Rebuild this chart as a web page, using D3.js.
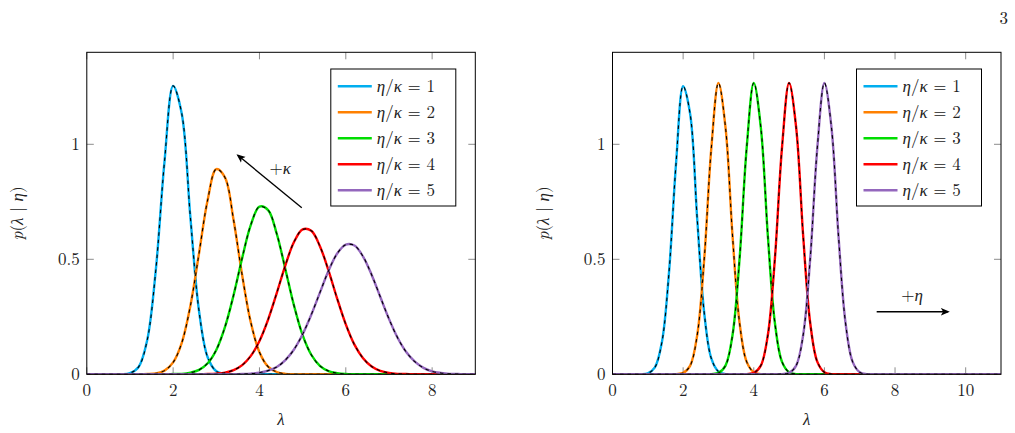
<!DOCTYPE html>
<html>
<head>
<meta charset="utf-8">
<script src="https://cdn.jsdelivr.net/npm/d3@7"></script>
<style>
  body { margin: 0; background: #fff; }
  svg { display: block; }
</style>
</head>
<body>
<svg id="chart" width="1015" height="433"></svg>
<script>
/* lambda grid shared by every curve (0 .. 11, step 0.2) */
var lam = [0, 0.2, 0.4, 0.6, 0.8, 1, 1.2, 1.4, 1.6, 1.8,
  2, 2.2, 2.4, 2.6, 2.8, 3, 3.2, 3.4, 3.6, 3.8,
  4, 4.2, 4.4, 4.6, 4.8, 5, 5.2, 5.4, 5.6, 5.8,
  6, 6.2, 6.4, 6.6, 6.8, 7, 7.2, 7.4, 7.6, 7.8,
  8, 8.2, 8.4, 8.6, 8.8, 9, 9.2, 9.4, 9.6, 9.8,
  10, 10.2, 10.4, 10.6, 10.8, 11];

/* left panel: varying kappa */
var pKappa1 = [0, 0, 0, 0, 0, 0.005, 0.032, 0.149, 0.456, 0.925,
  1.254, 1.133, 0.682, 0.275, 0.074, 0.013, 0.002, 0, 0, 0,
  0, 0, 0, 0, 0, 0, 0, 0, 0, 0,
  0, 0, 0, 0, 0, 0, 0, 0, 0, 0,
  0, 0, 0, 0, 0, 0, 0, 0, 0, 0,
  0, 0, 0, 0, 0, 0];
var pKappa2 = [0, 0, 0, 0, 0, 0, 0, 0.001, 0.004, 0.016,
  0.052, 0.137, 0.298, 0.526, 0.758, 0.892, 0.856, 0.671, 0.430, 0.225,
  0.096, 0.033, 0.010, 0.002, 0, 0, 0, 0, 0, 0,
  0, 0, 0, 0, 0, 0, 0, 0, 0, 0,
  0, 0, 0, 0, 0, 0, 0, 0, 0, 0,
  0, 0, 0, 0, 0, 0];
var pKappa3 = [0, 0, 0, 0, 0, 0, 0, 0, 0, 0,
  0.001, 0.002, 0.007, 0.019, 0.048, 0.106, 0.205, 0.344, 0.506, 0.650,
  0.729, 0.714, 0.611, 0.457, 0.299, 0.170, 0.085, 0.037, 0.014, 0.005,
  0.001, 0, 0, 0, 0, 0, 0, 0, 0, 0,
  0, 0, 0, 0, 0, 0, 0, 0, 0, 0,
  0, 0, 0, 0, 0, 0];
var pKappa4 = [0, 0, 0, 0, 0, 0, 0, 0, 0, 0,
  0, 0, 0, 0, 0.001, 0.003, 0.007, 0.018, 0.040, 0.080,
  0.145, 0.238, 0.353, 0.474, 0.575, 0.630, 0.624, 0.557, 0.451, 0.329,
  0.217, 0.129, 0.070, 0.034, 0.015, 0.006, 0.002, 0.001, 0, 0,
  0, 0, 0, 0, 0, 0, 0, 0, 0, 0,
  0, 0, 0, 0, 0, 0];
var pKappa5 = [0, 0, 0, 0, 0, 0, 0, 0, 0, 0,
  0, 0, 0, 0, 0, 0, 0, 0, 0.001, 0.003,
  0.007, 0.016, 0.032, 0.062, 0.108, 0.174, 0.259, 0.355, 0.450, 0.525,
  0.564, 0.560, 0.512, 0.432, 0.336, 0.241, 0.159, 0.097, 0.055, 0.028,
  0.013, 0.006, 0.002, 0.001, 0, 0, 0, 0, 0, 0,
  0, 0, 0, 0, 0, 0];

/* right panel: varying eta */
var pEta1 = [0, 0, 0, 0, 0, 0.004, 0.030, 0.141, 0.443, 0.918,
  1.253, 1.130, 0.672, 0.263, 0.068, 0.012, 0.001, 0, 0, 0,
  0, 0, 0, 0, 0, 0, 0, 0, 0, 0,
  0, 0, 0, 0, 0, 0, 0, 0, 0, 0,
  0, 0, 0, 0, 0, 0, 0, 0, 0, 0,
  0, 0, 0, 0, 0, 0];
var pEta2 = [0, 0, 0, 0, 0, 0, 0, 0, 0, 0.001,
  0.006, 0.038, 0.172, 0.507, 0.987, 1.267, 1.073, 0.599, 0.221, 0.054,
  0.009, 0.001, 0, 0, 0, 0, 0, 0, 0, 0,
  0, 0, 0, 0, 0, 0, 0, 0, 0, 0,
  0, 0, 0, 0, 0, 0, 0, 0, 0, 0,
  0, 0, 0, 0, 0, 0];
var pEta3 = [0, 0, 0, 0, 0, 0, 0, 0, 0, 0,
  0, 0, 0, 0, 0.001, 0.006, 0.038, 0.172, 0.507, 0.987,
  1.267, 1.073, 0.599, 0.221, 0.054, 0.009, 0.001, 0, 0, 0,
  0, 0, 0, 0, 0, 0, 0, 0, 0, 0,
  0, 0, 0, 0, 0, 0, 0, 0, 0, 0,
  0, 0, 0, 0, 0, 0];
var pEta4 = [0, 0, 0, 0, 0, 0, 0, 0, 0, 0,
  0, 0, 0, 0, 0, 0, 0, 0, 0, 0.001,
  0.006, 0.038, 0.172, 0.507, 0.987, 1.267, 1.073, 0.599, 0.221, 0.054,
  0.009, 0.001, 0, 0, 0, 0, 0, 0, 0, 0,
  0, 0, 0, 0, 0, 0, 0, 0, 0, 0,
  0, 0, 0, 0, 0, 0];
var pEta5 = [0, 0, 0, 0, 0, 0, 0, 0, 0, 0,
  0, 0, 0, 0, 0, 0, 0, 0, 0, 0,
  0, 0, 0, 0, 0.001, 0.006, 0.038, 0.172, 0.507, 0.987,
  1.267, 1.073, 0.599, 0.221, 0.054, 0.009, 0.001, 0, 0, 0,
  0, 0, 0, 0, 0, 0, 0, 0, 0, 0,
  0, 0, 0, 0, 0, 0];

var ratios = ["1", "2", "3", "4", "5"];
var colors = ["#00aeef", "#ff8000", "#00dd00", "#ff0000", "#9467bd"];
var xTicksLeft = [0, 2, 4, 6, 8];
var xTicksRight = [0, 2, 4, 6, 8, 10];
var yTicks = [0, 0.5, 1];
var yTickLabels = ["0", "0.5", "1"];

var FONT = "'Latin Modern Roman', 'Liberation Serif', serif";
var FS = "17px";

var svg = d3.select("#chart");

/* every text goes through here so the font is set inline */
function addText(sel) {
  return sel.append("text")
      .style("font-family", FONT)
      .style("font-size", FS)
      .attr("fill", "#222");
}

/* page number */
addText(svg)
    .attr("x", 1008)
    .attr("y", 24)
    .style("text-anchor", "end")
    .text("3");

var defs = svg.append("defs");
defs.append("marker")
    .attr("id", "arrowhead")
    .attr("viewBox", "0 0 10 10")
    .attr("refX", 8)
    .attr("refY", 5)
    .attr("markerWidth", 9)
    .attr("markerHeight", 9)
    .attr("markerUnits", "userSpaceOnUse")
    .attr("orient", "auto")
  .append("path")
    .attr("d", "M0,0.8 L10,5 L0,9.2 L2.5,5 Z")
    .attr("fill", "#000");

function drawPanel(id, left, xMax, xTicks, series, arrow) {
  var top = 52.3, bottom = 374.3, right = left + 388.5;

  var x = d3.scaleLinear().domain([0, xMax]).range([left, right]);
  var y = d3.scaleLinear().domain([0, 1.4]).range([bottom, top]);

  var g = svg.append("g").attr("id", id);

  defs.append("clipPath")
      .attr("id", "clip-" + id)
    .append("rect")
      .attr("x", left)
      .attr("y", top)
      .attr("width", right - left)
      .attr("height", bottom - top);

  /* ticks on all four sides, pointing inward */
  var tl = 7;
  var gTicks = g.append("g").attr("stroke", "#8c8c8c").attr("stroke-width", 1);
  xTicks.forEach(function(t) {
    gTicks.append("line").attr("x1", x(t)).attr("x2", x(t)).attr("y1", bottom).attr("y2", bottom - tl);
    gTicks.append("line").attr("x1", x(t)).attr("x2", x(t)).attr("y1", top).attr("y2", top + tl);
  });
  yTicks.forEach(function(t) {
    gTicks.append("line").attr("x1", left).attr("x2", left + tl).attr("y1", y(t)).attr("y2", y(t));
    gTicks.append("line").attr("x1", right).attr("x2", right - tl).attr("y1", y(t)).attr("y2", y(t));
  });

  /* curves */
  var line = d3.line()
      .x(function(d) { return x(d[0]); })
      .y(function(d) { return y(d[1]); })
      .curve(d3.curveCatmullRom.alpha(0.5));

  var gCurves = g.append("g").attr("clip-path", "url(#clip-" + id + ")");
  series.forEach(function(vals, i) {
    var pts = lam.map(function(l, j) { return [l, vals[j]]; });
    gCurves.append("path")
        .datum(pts)
        .attr("d", line)
        .attr("fill", "none")
        .attr("stroke", colors[i])
        .attr("stroke-width", 2.4);
    gCurves.append("path")
        .datum(pts)
        .attr("d", line)
        .attr("fill", "none")
        .attr("stroke", "#000")
        .attr("stroke-width", 1.1)
        .attr("stroke-dasharray", "3.5,4");
  });

  /* frame */
  g.append("rect")
      .attr("x", left)
      .attr("y", top)
      .attr("width", right - left)
      .attr("height", bottom - top)
      .attr("fill", "none")
      .attr("stroke", "#000")
      .attr("stroke-width", 1);

  /* tick labels */
  xTicks.forEach(function(t) {
    addText(g)
        .attr("x", x(t))
        .attr("y", bottom + 22)
        .style("text-anchor", "middle")
        .text(t);
  });
  yTicks.forEach(function(t, i) {
    addText(g)
        .attr("x", left - 7)
        .attr("y", y(t))
        .attr("dy", "0.33em")
        .style("text-anchor", "end")
        .text(yTickLabels[i]);
  });

  /* axis labels */
  addText(g)
      .attr("x", (left + right) / 2)
      .attr("y", 425)
      .style("text-anchor", "middle")
      .style("font-style", "italic")
      .text("λ");

  var yl = addText(g)
      .attr("transform", "translate(" + (left - 64) + "," + ((top + bottom) / 2) + ") rotate(-90)")
      .style("text-anchor", "middle");
  yl.append("tspan").style("font-style", "italic").text("p");
  yl.append("tspan").text("(");
  yl.append("tspan").style("font-style", "italic").text("λ");
  yl.append("tspan").text(" | ");
  yl.append("tspan").style("font-style", "italic").text("η");
  yl.append("tspan").text(")");

  /* annotation arrow */
  g.append("line")
      .attr("x1", x(arrow.from[0]))
      .attr("y1", y(arrow.from[1]))
      .attr("x2", x(arrow.to[0]))
      .attr("y2", y(arrow.to[1]))
      .attr("stroke", "#000")
      .attr("stroke-width", 1.3)
      .attr("marker-end", "url(#arrowhead)");
  var at = addText(g)
      .attr("x", x(arrow.label[0]))
      .attr("y", y(arrow.label[1]))
      .attr("dy", "0.33em")
      .style("text-anchor", "middle");
  at.append("tspan").text("+");
  at.append("tspan").style("font-style", "italic").text(arrow.sym);

  /* legend */
  var lw = 125, lh = 137;
  var lx = right - 19.5 - lw, ly = top + 16.7;
  var leg = g.append("g").attr("transform", "translate(" + lx + "," + ly + ")");
  leg.append("rect")
      .attr("width", lw)
      .attr("height", lh)
      .attr("fill", "#fff")
      .attr("stroke", "#000")
      .attr("stroke-width", 1);
  ratios.forEach(function(r, i) {
    var yy = 17.3 + i * 26;
    leg.append("line")
        .attr("x1", 7)
        .attr("x2", 41)
        .attr("y1", yy)
        .attr("y2", yy)
        .attr("stroke", colors[i])
        .attr("stroke-width", 2.4);
    var tx = addText(leg)
        .attr("x", 46)
        .attr("y", yy)
        .attr("dy", "0.33em");
    tx.append("tspan").style("font-style", "italic").text("η");
    tx.append("tspan").text("/");
    tx.append("tspan").style("font-style", "italic").text("κ");
    tx.append("tspan").text(" = " + r);
  });
}

drawPanel("left", 86.8, 9, xTicksLeft,
  [pKappa1, pKappa2, pKappa3, pKappa4, pKappa5],
  {from: [4.98, 0.724], to: [3.5, 0.952], label: [4.48, 0.895], sym: "κ"});

drawPanel("right", 612.5, 11, xTicksRight,
  [pEta1, pEta2, pEta3, pEta4, pEta5],
  {from: [7.48, 0.272], to: [9.5, 0.272], label: [8.48, 0.345], sym: "η"});
</script>
</body>
</html>
